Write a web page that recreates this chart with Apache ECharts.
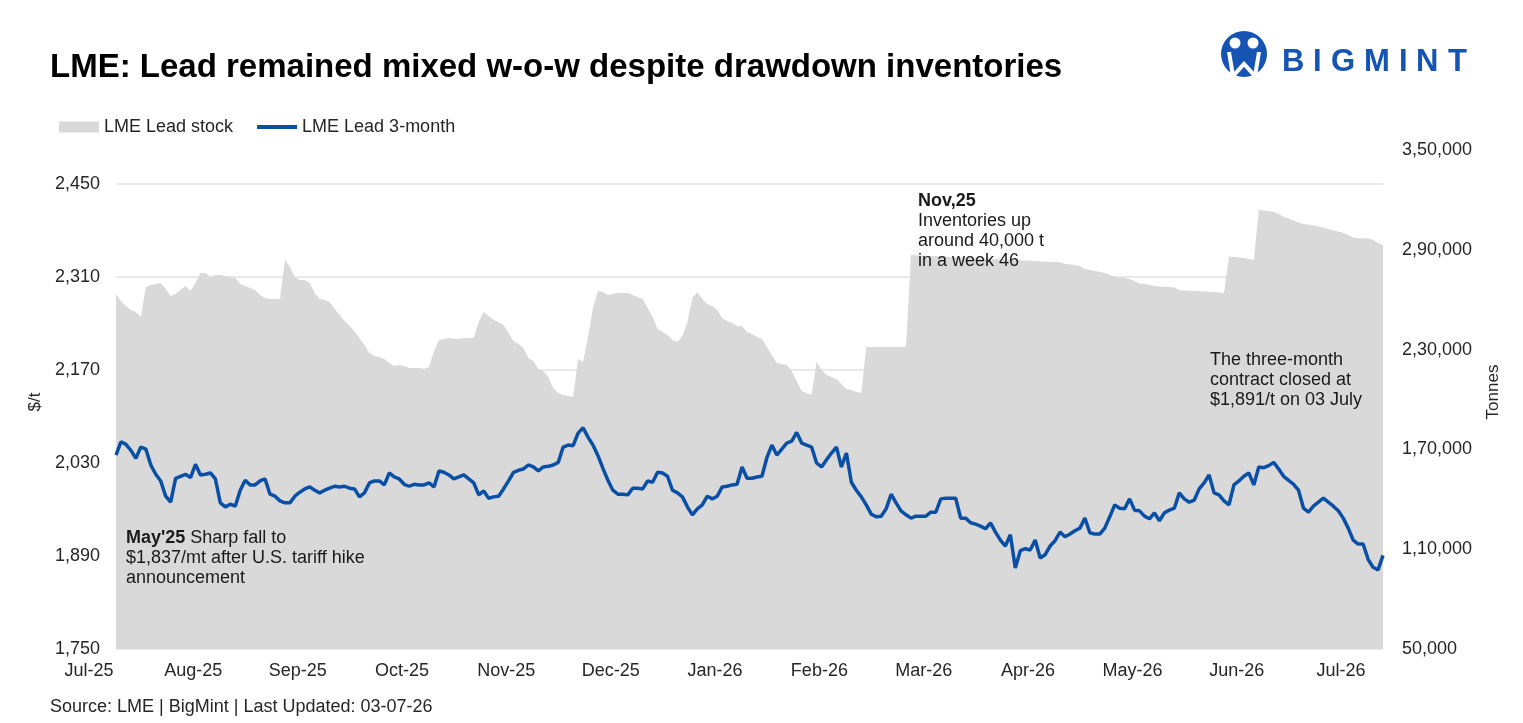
<!DOCTYPE html>
<html>
<head>
<meta charset="utf-8">
<script src="https://cdn.jsdelivr.net/npm/echarts@6/dist/echarts.min.js"></script>
<style>
  html, body { margin: 0; padding: 0; background: #fff; }
  #chart { width: 1523px; height: 723px; }
</style>
</head>
<body>
<div id="chart"></div>
<script>
// month labels, one every 21 trading days
const monthLabels = ['Jul-25', 'Aug-25', 'Sep-25', 'Oct-25', 'Nov-25', 'Dec-25', 'Jan-26',
  'Feb-26', 'Mar-26', 'Apr-26', 'May-26', 'Jun-26', 'Jul-26'];
const labelStep = 21;

// LME Lead 3-month, $/t (daily)
const price = [
  2042, 2062, 2058, 2049, 2037, 2054, 2051, 2027, 2013, 2003,
  1980, 1971, 2007, 2010, 2013, 2008, 2028, 2012, 2013, 2015,
  2006, 1970, 1964, 1968, 1965, 1989, 2004, 1997, 1997, 2003,
  2006, 1983, 1980, 1973, 1970, 1970, 1980, 1986, 1991, 1994,
  1989, 1985, 1989, 1992, 1995, 1994, 1995, 1992, 1991, 1979,
  1985, 2000, 2003, 2003, 1997, 2015, 2009, 2006, 1998, 1995,
  1998, 1997, 1997, 2000, 1994, 2018, 2016, 2012, 2006, 2009,
  2012, 2006, 2000, 1982, 1988, 1977, 1979, 1980, 1991, 2003,
  2016, 2019, 2021, 2027, 2024, 2018, 2024, 2025, 2027, 2031,
  2054, 2057, 2056, 2075, 2083, 2069, 2057, 2041, 2022, 2004,
  1989, 1983, 1983, 1982, 1992, 1992, 1991, 2003, 2001, 2016,
  2015, 2010, 1989, 1985, 1979, 1964, 1952, 1961, 1967, 1980,
  1976, 1980, 1994, 1995, 1997, 1998, 2024, 2007, 2007, 2009,
  2010, 2038, 2057, 2042, 2051, 2060, 2063, 2076, 2060, 2057,
  2054, 2030, 2024, 2035, 2045, 2054, 2024, 2045, 2001, 1989,
  1979, 1967, 1953, 1949, 1950, 1961, 1983, 1970, 1958, 1952,
  1947, 1950, 1950, 1950, 1956, 1956, 1976, 1977, 1977, 1977,
  1947, 1947, 1940, 1938, 1935, 1931, 1940, 1926, 1914, 1905,
  1922, 1872, 1898, 1901, 1899, 1914, 1887, 1892, 1905, 1913,
  1926, 1919, 1923, 1928, 1932, 1947, 1925, 1923, 1923, 1932,
  1949, 1967, 1962, 1961, 1976, 1959, 1958, 1950, 1946, 1955,
  1943, 1955, 1959, 1962, 1985, 1976, 1971, 1974, 1991, 2000,
  2012, 1985, 1982, 1973, 1967, 1997, 2003, 2010, 2015, 1997,
  2024, 2023, 2026, 2031, 2021, 2010, 2004, 1998, 1989, 1962,
  1956, 1965, 1971, 1977, 1971, 1965, 1958, 1947, 1932, 1914,
  1908, 1908, 1885, 1873, 1869, 1891
];

// LME Lead stock, tonnes (daily)
const stock = [
  263400, 259200, 256200, 253800, 252600, 249600, 267600, 268800, 269400, 270000,
  266400, 262200, 263400, 265800, 268200, 265200, 270000, 276000, 276000, 273600,
  274800, 274800, 274200, 273600, 273000, 269400, 268200, 267000, 265800, 262800,
  261000, 260400, 260400, 260400, 284000, 279600, 273600, 271800, 271800, 270000,
  264000, 260400, 259800, 258600, 254400, 250800, 247200, 244200, 241200, 237000,
  232800, 228000, 226200, 225600, 224400, 222000, 220200, 220800, 220200, 219000,
  219000, 219000, 218400, 219600, 229200, 235800, 236400, 237000, 236400, 236400,
  237000, 237000, 237000, 246600, 252600, 250200, 247800, 246600, 244800, 240000,
  235200, 233400, 231000, 225000, 223200, 218400, 217200, 213500, 206900, 203900,
  202700, 202100, 201500, 224400, 222500, 237600, 255000, 265200, 264600, 262800,
  263400, 264000, 264000, 264000, 262800, 261600, 260400, 255000, 249600, 242400,
  240600, 238800, 235800, 234600, 238200, 246600, 261000, 264600, 260400, 257400,
  256200, 253800, 249000, 247200, 246000, 244200, 244200, 240600, 239400, 237600,
  236400, 231600, 226800, 222000, 221400, 220800, 217100, 211100, 205100, 203900,
  202700, 222500, 217700, 214700, 213500, 212300, 209300, 206300, 205700, 204500,
  203900, 231500, 231500, 231500, 231500, 231500, 231500, 231500, 231500, 231500,
  286900, 286700, 286600, 286400, 286300, 286200, 286000, 285900, 285700, 285500,
  285400, 285200, 285100, 284900, 284800, 284600, 284500, 284400, 284200, 284100,
  284000, 283800, 283700, 283500, 283400, 283200, 283000, 282900, 282700, 282600,
  282500, 281500, 281200, 280800, 280200, 278400, 277800, 277200, 276800, 276000,
  274800, 273800, 273300, 273000, 272400, 271200, 269800, 269400, 268800, 268200,
  268000, 267800, 267600, 267400, 265800, 265500, 265400, 265200, 265100, 264900,
  264800, 264600, 264400, 264200, 285800, 285600, 285300, 285000, 284400, 283800,
  313900, 313600, 313300, 312900, 311500, 309800, 308800, 307600, 306400, 305500,
  305200, 304600, 304000, 303400, 302500, 301600, 301000, 300100, 298900, 297400,
  296900, 296900, 296900, 295900, 294100, 292900
];

// categories: month name every labelStep days, blank otherwise
const categories = price.map((v, i) => (i % labelStep === 0 ? (monthLabels[i / labelStep] || '') : ''));

const FONT = '"Liberation Sans", Arial, sans-serif';
const BLUE = '#0a4fa6';
const LOGO_BLUE = '#1654b3';
const TEXT = '#262626';

// 3,50,000 style (Indian grouping)
function inr(v) {
  const s = String(Math.round(v));
  if (s.length <= 3) return s;
  const last3 = s.slice(-3);
  const rest = s.slice(0, -3).replace(/\B(?=(\d{2})+(?!\d))/g, ',');
  return rest + ',' + last3;
}

const chart = echarts.init(document.getElementById('chart'));

// BIGMINT word, letter by letter (wide tracking)
const logoLetters = ['B', 'I', 'G', 'M', 'I', 'N', 'T'];
const logoX = [1282, 1313, 1331, 1364, 1399, 1416, 1448];

const annoStyle = {
  font: '18px ' + FONT,
  fill: '#1a1a1a',
  lineHeight: 20
};

chart.setOption({
  animation: false,
  textStyle: { fontFamily: FONT },
  legend: {
    left: 54,
    top: 113,
    itemWidth: 40,
    itemHeight: 11,
    itemGap: 24,
    textStyle: { fontSize: 18, color: TEXT },
    data: [
      { name: 'LME Lead stock', icon: 'rect', itemStyle: { color: '#d9d9d9' } },
      { name: 'LME Lead 3-month', icon: 'path://M0,0 L40,0 L40,4 L0,4 Z', itemStyle: { color: BLUE } }
    ]
  },
  grid: [
    { left: 116, right: 140, top: 184, bottom: 74 }, // price
    { left: 116, right: 140, top: 150, bottom: 74 }  // stock
  ],
  xAxis: [
    {
      gridIndex: 0,
      type: 'category',
      data: categories,
      boundaryGap: false,
      axisLine: { show: false },
      axisTick: { show: false },
      axisLabel: {
        interval: labelStep - 1,
        fontSize: 18,
        color: TEXT,
        margin: 13,
        padding: [0, 54, 0, 0]
      }
    },
    {
      gridIndex: 1,
      type: 'category',
      data: categories,
      boundaryGap: false,
      show: false
    }
  ],
  yAxis: [
    {
      gridIndex: 0,
      type: 'value',
      min: 1750,
      max: 2450,
      interval: 140,
      axisLine: { show: false },
      axisTick: { show: false },
      axisLabel: {
        fontSize: 18,
        color: TEXT,
        margin: 16,
        formatter: v => v.toLocaleString('en-US')
      },
      splitLine: { lineStyle: { color: '#e2e2e2', width: 1.5 } }
    },
    {
      gridIndex: 1,
      type: 'value',
      position: 'right',
      min: 50000,
      max: 350000,
      interval: 60000,
      axisLine: { show: false },
      axisTick: { show: false },
      splitLine: { show: false },
      axisLabel: {
        fontSize: 18,
        color: TEXT,
        margin: 19,
        formatter: inr
      }
    }
  ],
  series: [
    {
      name: 'LME Lead stock',
      type: 'line',
      xAxisIndex: 1,
      yAxisIndex: 1,
      data: stock,
      symbol: 'none',
      lineStyle: { width: 0 },
      itemStyle: { color: '#d9d9d9' },
      areaStyle: { color: '#d9d9d9', opacity: 1 },
      z: 1
    },
    {
      name: 'LME Lead 3-month',
      type: 'line',
      xAxisIndex: 0,
      yAxisIndex: 0,
      data: price,
      symbol: 'none',
      lineStyle: { color: BLUE, width: 3.5 },
      itemStyle: { color: BLUE },
      z: 3
    }
  ],
  graphic: [
    // title
    {
      type: 'text', left: 50, top: 51,
      style: { text: 'LME: Lead remained mixed w-o-w despite drawdown inventories', font: 'bold 33px ' + FONT, fill: '#000' }
    },
    // axis names
    {
      type: 'text', x: 35, y: 402, rotation: Math.PI / 2,
      style: { text: '$/t', font: '17px ' + FONT, fill: TEXT, align: 'center', verticalAlign: 'middle' }
    },
    {
      type: 'text', x: 1493, y: 392, rotation: Math.PI / 2,
      style: { text: 'Tonnes', font: '17px ' + FONT, fill: TEXT, align: 'center', verticalAlign: 'middle' }
    },
    // source
    {
      type: 'text', left: 50, top: 698,
      style: { text: 'Source: LME | BigMint | Last Updated: 03-07-26', font: '18px ' + FONT, fill: TEXT }
    },
    // annotations
    {
      type: 'text', x: 126, y: 528, z: 10,
      style: Object.assign({
        text: "{b|May'25} Sharp fall to\n$1,837/mt after U.S. tariff hike\nannouncement",
        rich: { b: { font: 'bold 18px ' + FONT, fill: '#1a1a1a' } }
      }, annoStyle)
    },
    {
      type: 'text', x: 918, y: 191, z: 10,
      style: Object.assign({
        text: '{b|Nov,25}\nInventories up\naround 40,000 t\nin a week 46',
        rich: { b: { font: 'bold 18px ' + FONT, fill: '#1a1a1a' } }
      }, annoStyle)
    },
    {
      type: 'text', x: 1210, y: 350, z: 10,
      style: Object.assign({
        text: 'The three-month\ncontract closed at\n$1,891/t on 03 July'
      }, annoStyle)
    },
    // logo mark
    {
      type: 'group',
      children: [
        { type: 'circle', shape: { cx: 1244, cy: 54, r: 23 }, style: { fill: LOGO_BLUE } },
        { type: 'circle', shape: { cx: 1235, cy: 43, r: 5.5 }, style: { fill: '#fff' } },
        { type: 'circle', shape: { cx: 1253, cy: 43, r: 5.5 }, style: { fill: '#fff' } },
        { type: 'polyline', shape: { points: [[1229, 52], [1233, 76], [1244, 64], [1255, 76], [1259, 52]] },
          style: { stroke: '#fff', lineWidth: 4, fill: null } }
      ]
    },
    {
      type: 'group',
      children: logoLetters.map((ch, i) => ({
        type: 'text', x: logoX[i], y: 47,
        style: { text: ch, font: 'bold 31px ' + FONT, fill: LOGO_BLUE }
      }))
    }
  ]
});
</script>
</body>
</html>
